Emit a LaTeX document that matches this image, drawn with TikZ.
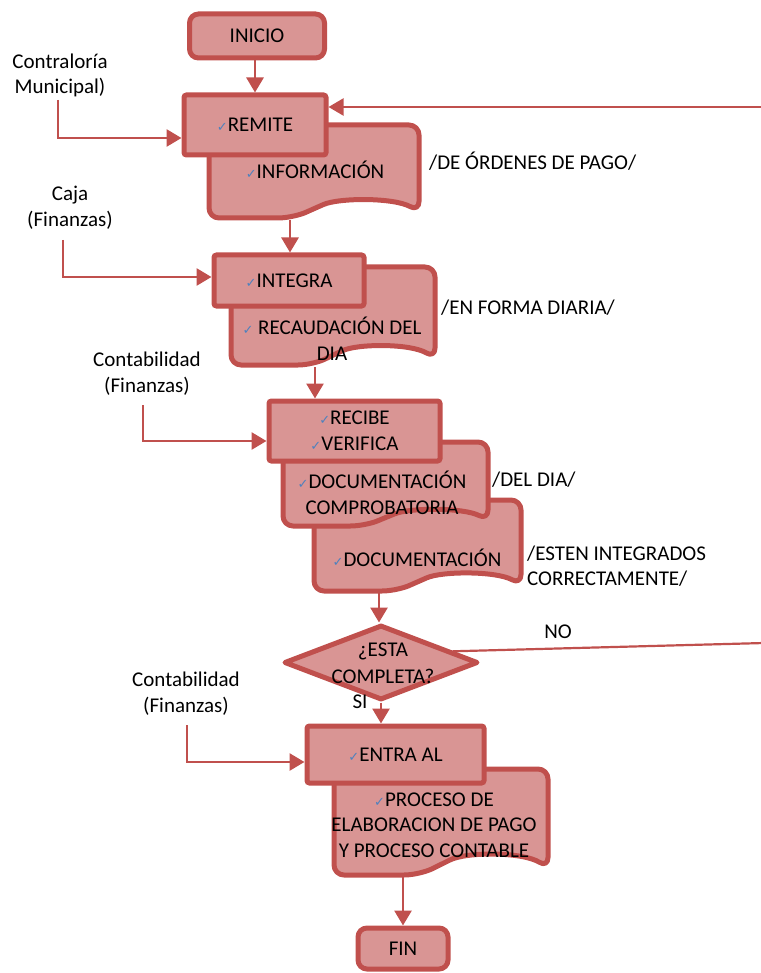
\documentclass[tikz,border=0pt]{standalone}
\usepackage{fontspec}
\setmainfont{Carlito}
\newfontfamily\symfont{DejaVu Sans}
\usetikzlibrary{arrows.meta,shapes.geometric,calc}

\definecolor{boxfill}{HTML}{D99594}
\definecolor{boxline}{HTML}{C0504D}
\definecolor{tickblue}{HTML}{4F81BD}

% small blue check mark used as a bullet
\newcommand{\tk}{{\symfont\fontsize{13}{13}\selectfont\color{tickblue}✓}}

% document symbol: #1 left, #2 top, #3 right, #4 bottom (wavy bottom edge)
\newcommand{\docsymbol}[4]{%
  \draw[docstyle]
    (#1,{(#2+#4)/2}) [rounded corners=10pt] -- (#1,#2) -- (#3,#2)
    -- (#3,{#2+0.93*(#4-#2)})
    .. controls ({#3-0.12*(#3-#1)},{#2+0.78*(#4-#2)}) and ({#1+0.62*(#3-#1)},{#2+0.78*(#4-#2)})
    .. ({#1+0.5*(#3-#1)},{#2+0.9*(#4-#2)})
    .. controls ({#1+0.44*(#3-#1)},{#2+0.96*(#4-#2)}) and ({#1+0.38*(#3-#1)},#4)
    .. ({#1+0.28*(#3-#1)},#4)
    [rounded corners=10pt] -- (#1,#4) -- cycle;}

\begin{document}
\begin{tikzpicture}[x=1pt,y=-1pt,
  font=\fontsize{21}{25.5}\selectfont,
  termbox/.style={draw=boxline,fill=boxfill,line width=5pt,rounded corners=9pt,inner sep=0pt},
  procbox/.style={draw=boxline,fill=boxfill,line width=5pt,rounded corners=2.5pt,inner sep=0pt,align=center},
  docstyle/.style={draw=boxline,fill=boxfill,line width=5pt,line join=round},
  decision/.style={diamond,draw=boxline,fill=boxfill,line width=5pt,line join=round,inner sep=0pt},
  flow/.style={draw=boxline,line width=2.8pt,-{Triangle[width=17pt,length=15pt]}},
  plain/.style={draw=boxline,line width=2.2pt},
  txt/.style={inner sep=0pt,align=center},
  note/.style={inner sep=0pt,anchor=base west,align=left}]

\useasboundingbox (0,0) rectangle (760,973);

% ---------- shapes ----------
\node[termbox,minimum width=135pt,minimum height=44pt] (inicio) at (257,36) {INICIO};

\docsymbol{209}{125}{419}{218}
\node[procbox,minimum width=142pt,minimum height=60pt] (remite) at (255,125) {\tk REMITE};
\node[txt,anchor=base] (info) at (315,178.5) {\tk INFORMACIÓN};

\docsymbol{231}{267}{435}{365}
\node[procbox,minimum width=150pt,minimum height=51pt] (integra) at (289,280.5) {\tk INTEGRA};
\node[txt] (recaud) at (332,338.5) {\tk\ RECAUDACIÓN DEL\\DIA};

\docsymbol{314}{500}{521}{591}
\docsymbol{283}{442}{488}{526}
\node[procbox,minimum width=171pt,minimum height=60pt] (recibe) at (354.5,431) {\tk RECIBE\\\tk VERIFICA};
\node[txt] (docomp) at (382,493) {\tk DOCUMENTACIÓN\\COMPROBATORIA};
\node[txt,anchor=base] (docum) at (417,566.5) {\tk DOCUMENTACIÓN};

\node[decision,minimum width=194pt,minimum height=75pt] (dia) at (381,662.5) {};
\node[txt,font=\fontsize{21}{27}\selectfont] (diatxt) at (383,663) {¿ESTA\hspace{26pt}\\COMPLETA?};

\docsymbol{334}{769}{548}{875}
\node[procbox,minimum width=177pt,minimum height=57pt] (entra) at (395.5,754.5) {\tk ENTRA AL};
\node[txt] (proceso) at (434,825) {\tk PROCESO DE\\ELABORACION DE PAGO\\Y PROCESO CONTABLE};

\node[termbox,minimum width=90pt,minimum height=41pt] (fin) at (403,948.5) {FIN};

% ---------- side texts ----------
\node[txt] (contral) at (60,75.5) {Contraloría\\Municipal)};
\node[txt] (caja) at (70,207.5) {Caja\\(Finanzas)};
\node[txt] (conta1) at (147,373.5) {Contabilidad\\(Finanzas)};
\node[txt] (conta2) at (186,693.5) {Contabilidad\\(Finanzas)};

\node[note] (n1) at (429,169.5) {/DE ÓRDENES DE PAGO/};
\node[note] (n2) at (441,314.5) {/EN FORMA DIARIA/};
\node[note] (n3) at (492,486.5) {/DEL DIA/};
\node[txt,align=left,anchor=west] (n4) at (527,566) {/ESTEN INTEGRADOS\\CORRECTAMENTE/};
\node[txt,anchor=base] (no) at (558,638.5) {NO};
\node[txt,anchor=base] (si) at (360,708.5) {SI};

% ---------- connectors ----------
\coordinate (d1b) at (290,220);
\coordinate (d2b) at (315,367);
\coordinate (d4b) at (379,593);
\coordinate (d5b) at (403,877);

\draw[flow] (inicio.south -| remite.north) -- (remite.north);
\draw[flow] (d1b) -- (d1b |- integra.north);
\draw[flow] (d2b) -- (d2b |- recibe.north);
\draw[flow] (d4b) -- (d4b |- dia.north);
\draw[flow] (dia.south) -- (dia.south |- entra.north);
\draw[flow] (d5b) -- (d5b |- fin.north);

\coordinate (s1) at (58,100);
\coordinate (s2) at (63,240);
\coordinate (s3) at (143,405);
\coordinate (s4) at (187,725);
\draw[flow] (s1) |- ([yshift=-13pt]remite.west);
\draw[flow] (s2) |- ([yshift=3.5pt]integra.west);
\draw[flow] (s3) |- ([yshift=-10pt]recibe.west);
\draw[flow] (s4) |- ([yshift=-7.5pt]entra.west);

% loop back from the right edge
\coordinate (r1) at (764,107);
\coordinate (r2) at (764,643);
\draw[flow,line width=2.2pt] (r1) -- (r1 -| remite.east);
\draw[plain] ($(dia.north)!0.72!(dia.east)$) -- (r2);

\end{tikzpicture}
\end{document}
